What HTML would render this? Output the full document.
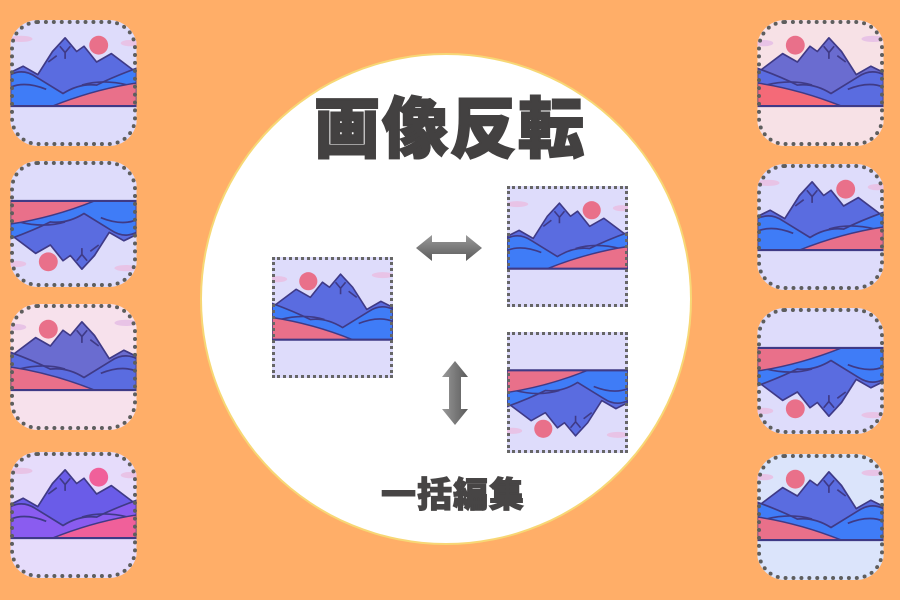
<!DOCTYPE html>
<html><head><meta charset="utf-8"><style>
html,body{margin:0;padding:0}
body{width:900px;height:600px;background:#ffae68;position:relative;overflow:hidden;font-family:"Liberation Sans","Noto Sans CJK JP",sans-serif}
.t{position:absolute;width:127px;height:126px;border-radius:28px;overflow:hidden}
.t svg,.s svg{display:block;width:100%;height:100%}
.t::after{content:"";position:absolute;inset:0;border-radius:28px;border:4px dotted #5e5e5e}
.s{position:absolute;width:121px;height:121px}
.s::after{content:"";position:absolute;inset:0;border:3px dotted #666}
#circle{position:absolute;left:202px;top:55px;width:488px;height:488px;border-radius:50%;background:#fff;box-shadow:0 0 0 2px #f7d775}
#title{position:absolute;left:290px;top:76px;width:320px;text-align:center;font-family:"Noto Sans CJK JP",sans-serif;font-weight:900;font-size:66px;line-height:96px;color:#434141;letter-spacing:2px;-webkit-text-stroke:2px #434141;text-shadow:0 0 3px #fff,0 0 3px #fff}
#sub{position:absolute;left:340px;top:468px;width:226px;text-align:center;font-family:"Noto Sans CJK JP",sans-serif;font-weight:900;font-size:35px;line-height:50px;color:#474545;letter-spacing:1px;-webkit-text-stroke:1px #474545}
</style></head><body>
<svg width="0" height="0" style="position:absolute">
<defs>
<linearGradient id="ag" x1="0" y1="0" x2="0" y2="1"><stop offset="0" stop-color="#9a9a9a"/><stop offset="1" stop-color="#5a5a5a"/></linearGradient>
<linearGradient id="agv" x1="0" y1="0" x2="1" y2="0"><stop offset="0" stop-color="#9a9a9a"/><stop offset="1" stop-color="#5a5a5a"/></linearGradient>
<symbol id="L" viewBox="0 0 120 120">
<rect width="120" height="120" style="fill:var(--bg,#dedcfb)"/>
<ellipse cx="10" cy="18" rx="11" ry="3" fill="#e8c3e6"/>
<ellipse cx="114" cy="22" rx="9" ry="3" fill="#e8c3e6"/>
<circle cx="84" cy="24" r="9" style="fill:var(--sun,#e9708a)"/>
<polygon points="0,50 12,44 26,52 40,30 52,17 63,30 70,25 82,40 96,32 120,50 120,72 0,72" style="fill:var(--m,#5a6ce0)" stroke="#3f3a86" stroke-width="1.6" stroke-linejoin="round"/>
<path d="M0,52 Q12,46 24,54 L50,70 Q66,60 82,62 Q98,54 120,46 L120,82 L0,82 Z" style="fill:var(--b,#3f7cf7)" stroke="#3f3a86" stroke-width="1.6" stroke-linejoin="round"/>
<path d="M0,64 Q14,58 34,66 M47,25 L52,31 L57,25 M52,31 L52,37 M36,40 L44,34 M68,62 Q88,56 112,62" fill="none" stroke="#3f3a86" stroke-width="1.6"/>
<path d="M40,82 Q80,66 120,60 L120,82 Z" style="fill:var(--p,#e9708a)" stroke="#3f3a86" stroke-width="1.4"/>
<line x1="0" y1="82" x2="120" y2="82" stroke="#3f3a86" stroke-width="2"/>
</symbol>
</defs></svg>

<div class="t" style="left:10px;top:20px"><svg viewBox="0 0 120 120"><use href="#L"/></svg></div>
<div class="t" style="left:10px;top:161px"><svg viewBox="0 0 120 120"><use href="#L" transform="rotate(180 60 60)"/></svg></div>
<div class="t" style="left:10px;top:304px"><svg viewBox="0 0 120 120"><use href="#L" transform="matrix(-1 0 0 1 120 0)" style="--bg:#f7e1ec;--m:#6a6cd0;--b:#5a6ce0"/></svg></div>
<div class="t" style="left:10px;top:452px"><svg viewBox="0 0 120 120"><use href="#L" style="--bg:#e6dcfb;--m:#6a5ce8;--b:#8a5cf0;--p:#f0609a;--sun:#f0609a"/></svg></div>
<div class="t" style="left:757px;top:20px"><svg viewBox="0 0 120 120"><use href="#L" transform="matrix(-1 0 0 1 120 0)" style="--bg:#f7e1e6;--m:#6a6cd0;--b:#5a6ce0;--p:#f46a78"/></svg></div>
<div class="t" style="left:757px;top:164px"><svg viewBox="0 0 120 120"><use href="#L"/></svg></div>
<div class="t" style="left:757px;top:308px"><svg viewBox="0 0 120 120"><use href="#L" transform="rotate(180 60 60)"/></svg></div>
<div class="t" style="left:757px;top:454px"><svg viewBox="0 0 120 120"><use href="#L" transform="matrix(-1 0 0 1 120 0)" style="--bg:#dbe4fb"/></svg></div>

<div id="circle"></div>
<div id="title">画像反転</div>

<div class="s" style="left:272px;top:257px"><svg viewBox="0 0 120 120"><use href="#L" transform="matrix(-1 0 0 1 120 0)"/></svg></div>
<div class="s" style="left:507px;top:186px"><svg viewBox="0 0 120 120"><use href="#L"/></svg></div>
<div class="s" style="left:507px;top:332px"><svg viewBox="0 0 120 120"><use href="#L" transform="rotate(180 60 60)"/></svg></div>

<svg style="position:absolute;left:414px;top:232px" width="70" height="32" viewBox="0 0 70 32"><polygon points="2,16 18,3 18,10 52,10 52,3 68,16 52,29 52,22 18,22 18,29" fill="url(#ag)"/></svg>
<svg style="position:absolute;left:439px;top:360px" width="32" height="66" viewBox="0 0 32 66"><polygon points="16,1 29,17 22,17 22,49 29,49 16,65 3,49 10,49 10,17 3,17" fill="url(#agv)"/></svg>

<div id="sub">一括編集</div>
</body></html>
